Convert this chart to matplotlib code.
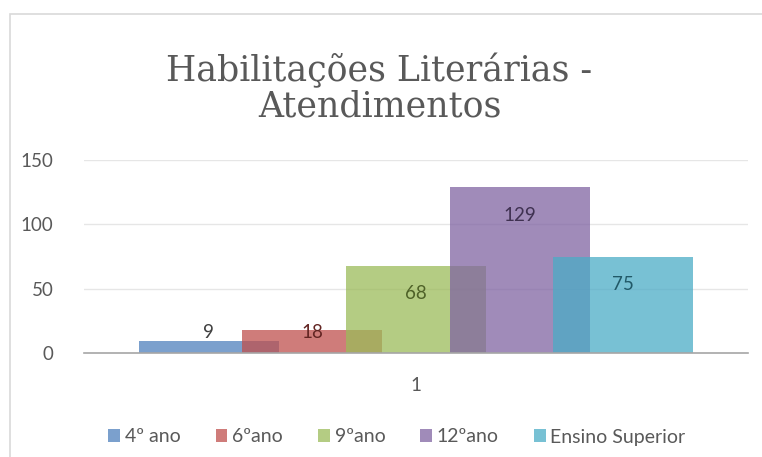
import matplotlib.pyplot as plt
from matplotlib.patches import Rectangle
import numpy as np

# --- dados ---
categoria = ["1"]
series = ["4º ano", "6ºano", "9ºano", "12ºano", "Ensino Superior"]
valores = [9, 18, 68, 129, 75]
yticks = [0, 50, 100, 150]

# cores (estilo Excel) e cor do texto dos rótulos
cores = ["#4F81BD", "#C0504D", "#9BBB59", "#8064A2", "#4BACC6"]
cores_rotulo = ["#404040", "#632523", "#4F6228", "#3F3151", "#215968"]
cinza = "#595959"

plt.rcParams['font.family'] = ['Lato', 'DejaVu Sans']

fig = plt.figure(figsize=(7.62, 4.57), dpi=100)
ax = fig.add_axes([84 / 762, 1 - 353 / 457, 664 / 762, 193 / 457])

# borda da área do gráfico
fig.patches.append(Rectangle((10 / 762, -0.05), 1.2, 1 - 14 / 457 + 0.05,
                             transform=fig.transFigure, fill=False,
                             edgecolor="#d9d9d9", lw=1.2))

n = len(series)
passo = 0.156   # distância entre centros das barras
largura = 0.211  # barras sobrepostas
x0 = 0
for i, (nome, v) in enumerate(zip(series, valores)):
    xc = x0 + (i - (n - 1) / 2) * passo
    ax.bar(xc, v, width=largura, color=cores[i], alpha=0.75, label=nome,
           zorder=3, linewidth=0)
    y_rot = max(v - 21.8, 16.3)
    ax.text(xc, y_rot, str(v), ha='center', va='center', fontsize=13.5,
            color=cores_rotulo[i], zorder=5)

ax.set_xlim(-0.5, 0.5)
ax.set_ylim(0, 150)
ax.set_xticks([x0])
ax.set_xticklabels(categoria)
ax.set_yticks(yticks)
ax.tick_params(axis='both', length=0, colors=cinza, labelsize=13.5)
ax.tick_params(axis='y', pad=22)
ax.tick_params(axis='x', pad=17)
ax.grid(axis='y', color="#e6e6e6", lw=1, zorder=0)
for s in ['top', 'right', 'left']:
    ax.spines[s].set_visible(False)
ax.spines['bottom'].set_color("#a6a6a6")
ax.spines['bottom'].set_linewidth(1.2)
ax.spines['bottom'].set_zorder(4)

fig.text(0.498, 1 - 88 / 457, "Habilitações Literárias -\nAtendimentos",
         ha='center', va='center', fontsize=25, color=cinza,
         family=['DejaVu Serif'], linespacing=1.05)

ax.legend(loc='center', bbox_to_anchor=(397 / 762, 1 - 437 / 457),
          bbox_transform=fig.transFigure, ncol=5, frameon=False,
          fontsize=14, handlelength=0.6, handleheight=0.6,
          handletextpad=0.25, columnspacing=1.8, labelcolor=cinza)

fig.savefig("out.png", dpi=100, facecolor="white")
